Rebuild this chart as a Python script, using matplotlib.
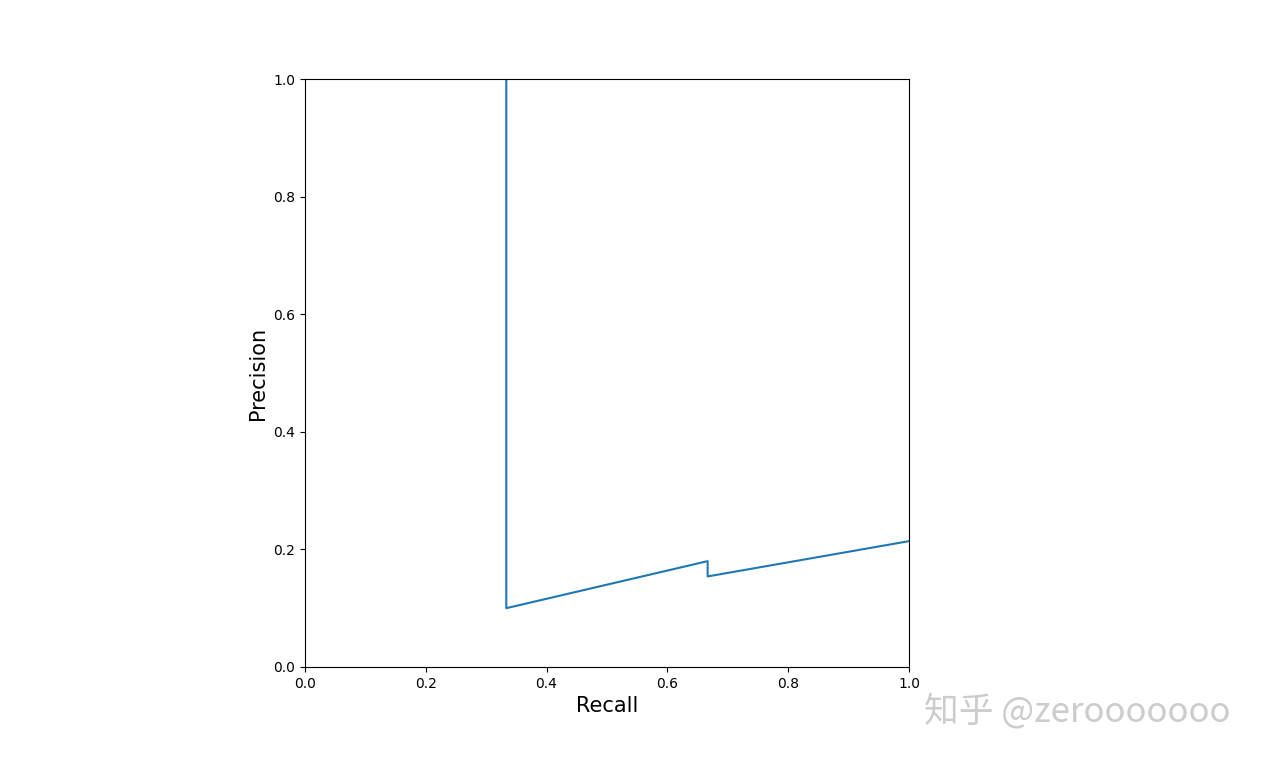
import matplotlib
matplotlib.use("Agg")
import matplotlib.pyplot as plt

# precision-recall points
recall = [1/3, 1/3, 2/3, 2/3, 1.0]
precision = [1.0, 0.1, 0.18, 0.154, 0.214]

ticks = [0.0, 0.2, 0.4, 0.6, 0.8, 1.0]
watermark = "知乎 @zerooooooo"

fig = plt.figure(figsize=(12.69, 7.62), dpi=100)
ax = fig.add_axes([0.2403, 0.1247, 0.476, 0.7716])

ax.plot(recall, precision, color="#1f77b4", linewidth=1.5)
ax.set_xlim(0, 1)
ax.set_ylim(0, 1)
ax.set_xticks(ticks)
ax.set_yticks(ticks)
ax.tick_params(labelsize=10)
ax.set_xlabel("Recall", fontsize=15)
ax.set_ylabel("Precision", fontsize=15)

# faint watermark
fig.text(0.7285, 0.066, watermark, fontsize=25, color="#cccccc",
         family=["Noto Sans CJK SC", "DejaVu Sans"],
         va="center", ha="left")

fig.savefig("out.png", dpi=100)
